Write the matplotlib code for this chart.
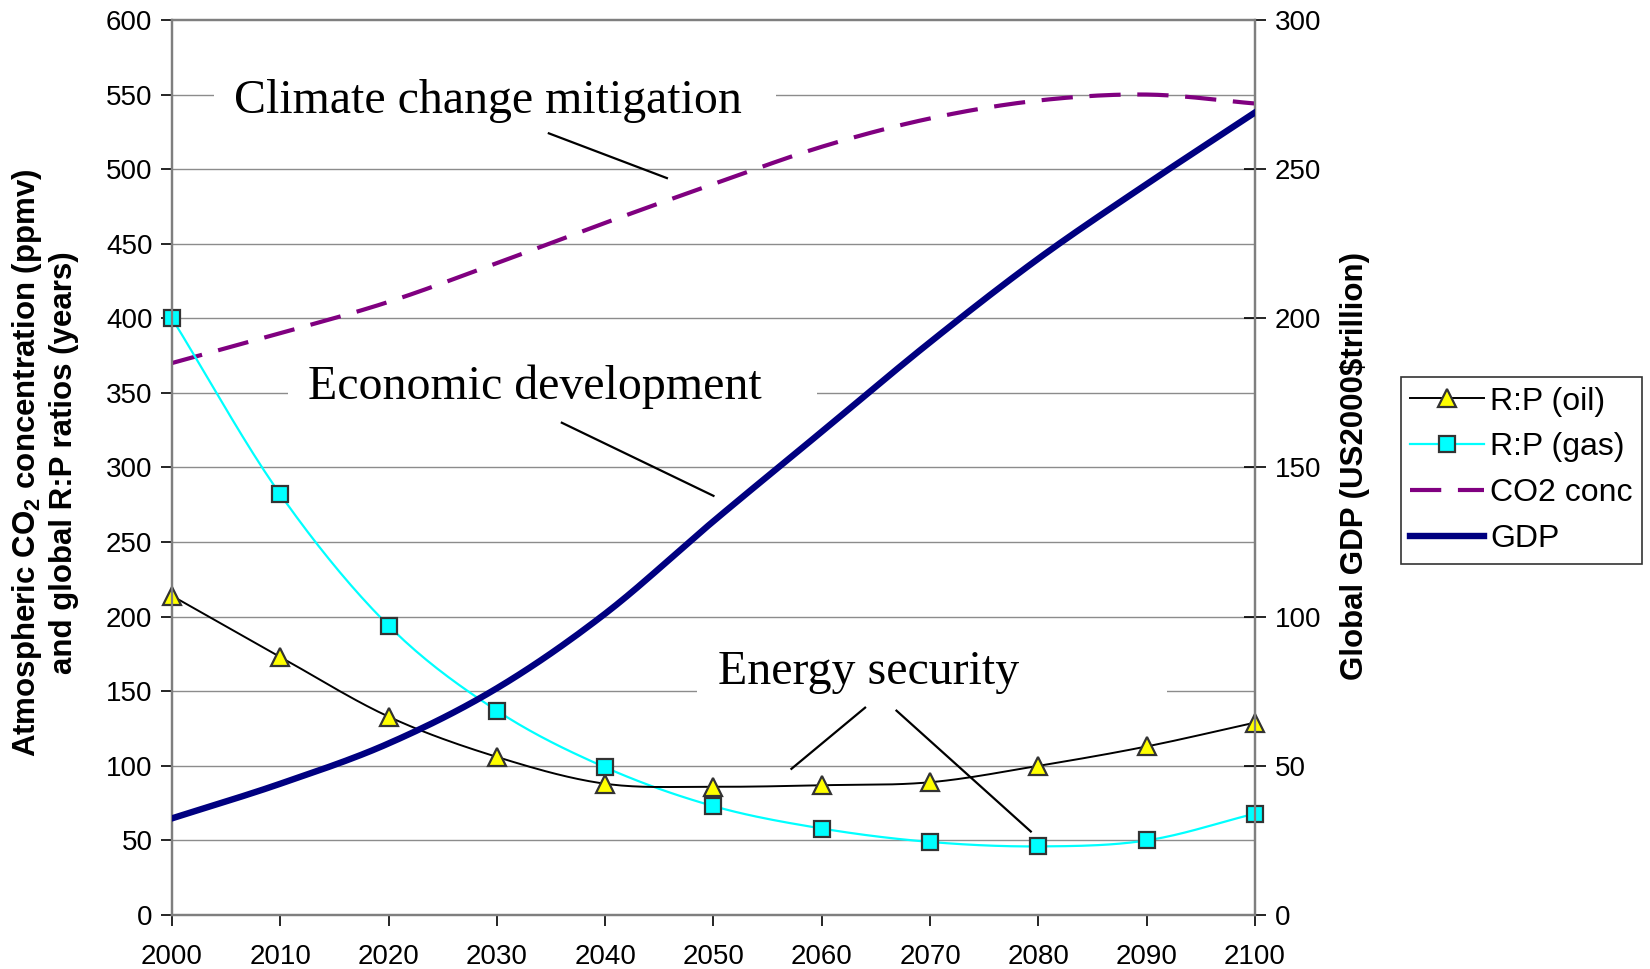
import numpy as np
import matplotlib
matplotlib.use("Agg")
import matplotlib.pyplot as plt
from matplotlib.lines import Line2D
from matplotlib.patches import Rectangle

years = [2000, 2010, 2020, 2030, 2040, 2050, 2060, 2070, 2080, 2090, 2100]
rp_oil = [214, 173, 133, 106, 88, 86, 87, 89, 100, 113, 129]
rp_gas = [400, 282, 194, 137, 99, 73, 58, 49, 46, 50, 68]
co2_conc = [370, 390, 411, 437, 464, 490, 515, 534, 546, 550, 544]
gdp = [32.4, 44, 57.5, 76, 101, 132, 162, 192, 220, 245, 269]

SANS = "Liberation Sans"
SERIF = "Liberation Serif"


def smooth(x, y, n=20):
    # Catmull-Rom pass through every point, like a spreadsheet "smoothed line"
    x = np.asarray(x, float)
    y = np.asarray(y, float)
    px = np.concatenate([[2 * x[0] - x[1]], x, [2 * x[-1] - x[-2]]])
    py = np.concatenate([[2 * y[0] - y[1]], y, [2 * y[-1] - y[-2]]])
    t = np.linspace(0, 1, n, endpoint=False)
    xs, ys = [], []
    for i in range(1, len(px) - 2):
        for arr, out in ((px, xs), (py, ys)):
            p0, p1, p2, p3 = arr[i - 1], arr[i], arr[i + 1], arr[i + 2]
            out.extend(0.5 * (2 * p1 + (-p0 + p2) * t
                              + (2 * p0 - 5 * p1 + 4 * p2 - p3) * t ** 2
                              + (-p0 + 3 * p1 - 3 * p2 + p3) * t ** 3))
    xs.append(x[-1])
    ys.append(y[-1])
    return np.array(xs), np.array(ys)


fig = plt.figure(figsize=(16.5, 9.69), dpi=100)
ax = fig.add_axes([0.1042, 0.0557, 0.6564, 0.9237])
ax2 = ax.twinx()

GRID = "#8c8c8c"
SPINE = "#7f7f7f"

ax.set_xlim(2000, 2100)
ax.set_ylim(0, 600)
ax2.set_ylim(0, 300)
ax.set_xticks(years)
ax.set_yticks(np.arange(0, 601, 50))
ax2.set_yticks(np.arange(0, 301, 50))
for yv in range(50, 600, 50):
    ax.axhline(yv, color=GRID, lw=1.0, zorder=0)

for a in (ax, ax2):
    for s in a.spines.values():
        s.set_color(SPINE)
        s.set_linewidth(1.6)
ax.tick_params(axis="both", direction="out", length=8, width=1.2, color="black",
               labelsize=20, pad=6)
ax.tick_params(axis="x", pad=13)
ax2.tick_params(axis="y", direction="inout", length=16, width=1.2, color="black",
                labelsize=20, pad=6)
for lab in ax.get_xticklabels() + ax.get_yticklabels() + ax2.get_yticklabels():
    lab.set_fontfamily(SANS)

# series
xs, ys = smooth(years, co2_conc)
ax.plot(xs, ys, color="#800080", lw=3.0, dashes=(7.5, 4), zorder=3)
xs, ys = smooth(years, rp_gas)
ax.plot(xs, ys, color="#00ffff", lw=1.6, zorder=3)
ax.plot(years, rp_gas, ls="none", marker="s", ms=11.5, mfc="#00ffff", mec="#333333",
        mew=1.6, zorder=5, clip_on=False)
xs, ys = smooth(years, rp_oil)
ax.plot(xs, ys, color="black", lw=1.4, zorder=3)
ax.plot(years, rp_oil, ls="none", marker="^", ms=13.5, mfc="#ffff00", mec="#333333",
        mew=1.6, zorder=5, clip_on=False)
xs, ys = smooth(years, gdp)
ax2.plot(xs, ys, color="#000080", lw=4.6, zorder=4)

# call-out labels sit in white text boxes that hide the gridline behind them
callouts = [
    ("Climate change mitigation", 2005.7, 546, 2003.9, 2055.8, 550),
    ("Economic development", 2012.6, 354, 2010.7, 2059.6, 350),
    ("Energy security", 2050.4, 163, 2048.5, 2091.9, 150),
]
for label, tx, ty, bx0, bx1, grid_y in callouts:
    ax.add_patch(Rectangle((bx0, grid_y - 14), bx1 - bx0, 28, fc="white",
                           ec="none", zorder=1))
    ax.text(tx, ty, label, family=SERIF, fontsize=34.5, va="center", ha="left",
            zorder=2)
for (x0, y0), (x1, y1) in [((2034.8, 524), (2045.7, 494)),
                           ((2036.0, 330), (2050.0, 281)),
                           ((2064.0, 139), (2057.2, 98)),
                           ((2066.9, 137), (2079.3, 56))]:
    ax.plot([x0, x1], [y0, y1], color="black", lw=1.6, zorder=6)

# axis titles
fig.text(0.027, 0.522, "Atmospheric CO$_\\mathregular{2}$ concentration (ppmv)\n"
         "and global R:P ratios (years)", rotation=90, ha="center", va="center",
         family=SANS, fontsize=22.5, fontweight="bold", linespacing=1.25)
fig.text(0.8215, 0.519, "Global GDP (US2000\\$trillion)", rotation=90, ha="center",
         va="center", family=SANS, fontsize=22.5, fontweight="bold")

handles = [
    Line2D([], [], color="black", lw=1.4, marker="^", ms=13.5, mfc="#ffff00",
           mec="#333333", mew=1.6),
    Line2D([], [], color="#00ffff", lw=1.6, marker="s", ms=11.5, mfc="#00ffff",
           mec="#333333", mew=1.6),
    Line2D([], [], color="#800080", lw=3.0, dashes=(7.5, 4)),
    Line2D([], [], color="#000080", lw=4.6),
]
leg = fig.legend(handles, ["R:P (oil)", "R:P (gas)", "CO2 conc", "GDP"],
                 loc="upper left", bbox_to_anchor=(0.849, 0.611), frameon=True,
                 fancybox=False, handlelength=2.3, handletextpad=0.2,
                 borderpad=0.3, labelspacing=0.5, borderaxespad=0,
                 prop={"family": SANS, "size": 23})
leg.get_frame().set_edgecolor("black")
leg.get_frame().set_linewidth(1.2)

fig.savefig("out.png", dpi=100)
